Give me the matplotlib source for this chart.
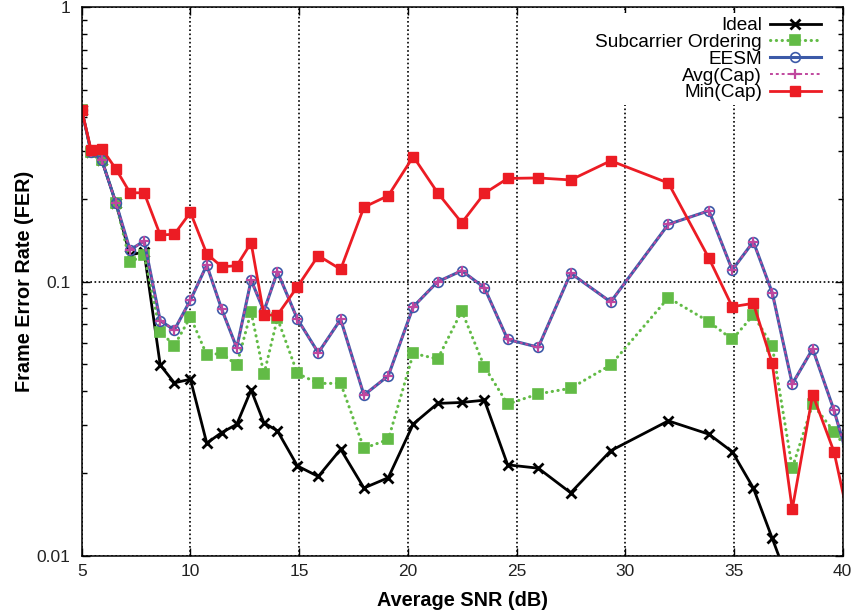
import matplotlib
matplotlib.use('Agg')
import matplotlib.pyplot as plt
from matplotlib.ticker import FixedLocator, LogLocator, NullFormatter, FixedFormatter

plt.rcParams['font.family'] = ['Liberation Sans', 'DejaVu Sans']

# measured SNR points (dB); last one sits just past the axis edge
snr = [5.0, 5.43, 5.92, 6.58, 7.22, 7.87, 8.61, 9.26, 10.0, 10.75, 11.44, 12.13,
       12.79, 13.38, 14.0, 14.92, 15.88, 16.91, 17.98, 19.1, 20.25, 21.37, 22.48,
       23.52, 24.59, 26.0, 27.49, 29.33, 31.98, 33.85, 34.92, 35.89, 36.76, 37.68,
       38.62, 39.6, 41.0]

ideal = [0.423, 0.297, 0.278, 0.193, 0.125, 0.1286, 0.0497, 0.0428, 0.0441, 0.0258,
         0.0282, 0.0302, 0.0403, 0.0306, 0.0286, 0.0213, 0.0195, 0.0245, 0.0177,
         0.0193, 0.0303, 0.0360, 0.0363, 0.0370, 0.0215, 0.0209, 0.0170, 0.0242,
         0.0311, 0.0278, 0.0240, 0.0177, 0.0116, 0.0074, 0.0060, 0.0050, 0.0040]

subcarrier = [0.423, 0.297, 0.278, 0.193, 0.118, 0.125, 0.0658, 0.0585, 0.0745, 0.0541,
              0.0548, 0.0497, 0.0778, 0.0459, 0.0736, 0.0463, 0.0426, 0.0426, 0.0247,
              0.0266, 0.0548, 0.0523, 0.0782, 0.0490, 0.0358, 0.0390, 0.0409, 0.0497,
              0.0874, 0.0715, 0.0616, 0.0756, 0.0583, 0.0209, 0.0358, 0.0284, 0.0202]

eesm = [0.423, 0.298, 0.278, 0.193, 0.1306, 0.1407, 0.0721, 0.0667, 0.0858, 0.115,
        0.0793, 0.0574, 0.1014, 0.0782, 0.1087, 0.0731, 0.0551, 0.0729, 0.0386,
        0.0454, 0.0811, 0.100, 0.1097, 0.0951, 0.0616, 0.0577, 0.1074, 0.0844,
        0.1619, 0.1815, 0.1104, 0.140, 0.0912, 0.0424, 0.0569, 0.0340, 0.0141]

avg_cap = [0.423, 0.298, 0.278, 0.193, 0.1306, 0.1407, 0.0721, 0.0667, 0.0858, 0.115,
           0.0793, 0.0574, 0.1014, 0.0782, 0.1087, 0.0731, 0.0551, 0.0729, 0.0386,
           0.0454, 0.0811, 0.100, 0.1097, 0.0951, 0.0616, 0.0577, 0.1074, 0.0844,
           0.1619, 0.1815, 0.1104, 0.140, 0.0912, 0.0424, 0.0569, 0.0340, 0.0141]

min_cap = [0.423, 0.302, 0.306, 0.257, 0.211, 0.211, 0.148, 0.149, 0.179, 0.1265,
           0.1134, 0.1144, 0.1387, 0.0756, 0.0756, 0.0959, 0.1245, 0.1110, 0.187,
           0.206, 0.286, 0.211, 0.164, 0.210, 0.238, 0.239, 0.235, 0.276, 0.229,
           0.1217, 0.0811, 0.0834, 0.0504, 0.0148, 0.0388, 0.0240, 0.0074]

x_ticks = [5, 10, 15, 20, 25, 30, 35, 40]
y_ticks = [0.01, 0.1, 1]
y_tick_labels = ['0.01', '0.1', '1']

fig = plt.figure(figsize=(8.55, 6.15), dpi=100)
ax = fig.add_axes([0.0956, 0.0959, 0.89, 0.892])

ax.plot(snr, ideal, color='black', lw=2.0, marker='x', ms=7, mew=2.0,
        label='Ideal')
ax.plot(snr, subcarrier, color='#62bb46', lw=2.2, ls=(0, (0.1, 1.8)),
        dash_capstyle='round', marker='s', ms=6.5, mew=1.2, mec='#62bb46',
        label='Subcarrier Ordering')
ax.plot(snr, eesm, color='#3c5aa8', lw=2.2, marker='o', ms=7, mew=1.2,
        mfc='none', label='EESM')
ax.plot(snr, avg_cap, color='#c0479e', lw=1.4, ls=(0, (1.5, 1.5)),
        marker='+', ms=7, mew=1.6, label='Avg(Cap)')
ax.plot(snr, min_cap, color='#ec1c24', lw=2.0, marker='s', ms=7,
        label='Min(Cap)')

ax.set_yscale('log')
ax.set_xlim(5, 40)
ax.set_ylim(0.01, 1)

ax.xaxis.set_major_locator(FixedLocator(x_ticks))
ax.yaxis.set_major_locator(FixedLocator(y_ticks))
ax.yaxis.set_major_formatter(FixedFormatter(y_tick_labels))
ax.yaxis.set_minor_locator(LogLocator(base=10, subs=range(2, 10)))
ax.yaxis.set_minor_formatter(NullFormatter())

ax.tick_params(which='both', direction='in', top=True, right=True,
               labelsize=12.5, colors='black', labelcolor='#222222')
ax.tick_params(which='major', length=6, width=1)
ax.tick_params(which='minor', length=3.5, width=1)
ax.tick_params(axis='y', pad=8)
ax.tick_params(axis='x', pad=6)
for s in ax.spines.values():
    s.set_linewidth(1.1)

ax.set_axisbelow(True)
ax.grid(True, which='major', color='black', lw=1.2, ls=(0, (1, 1.5)))

ax.set_xlabel('Average SNR (dB)', fontsize=14.3, fontweight='bold')
ax.set_ylabel('Frame Error Rate (FER)', fontsize=14.3, fontweight='bold')
ax.xaxis.set_label_coords(0.5, -0.064)
ax.yaxis.set_label_coords(-0.063, 0.5)

# markerfirst=False right-aligns the rows, so the labels end at their samples
leg = ax.legend(loc='upper right', bbox_to_anchor=(0.984, 1.0),
                markerfirst=False, fontsize=13.7,
                frameon=True, fancybox=False, edgecolor='none',
                facecolor='white', framealpha=1.0, labelspacing=-0.03,
                handlelength=2.7, handletextpad=0.4, borderpad=0.2,
                borderaxespad=0.3, numpoints=1)

fig.savefig('out.png', dpi=100)
